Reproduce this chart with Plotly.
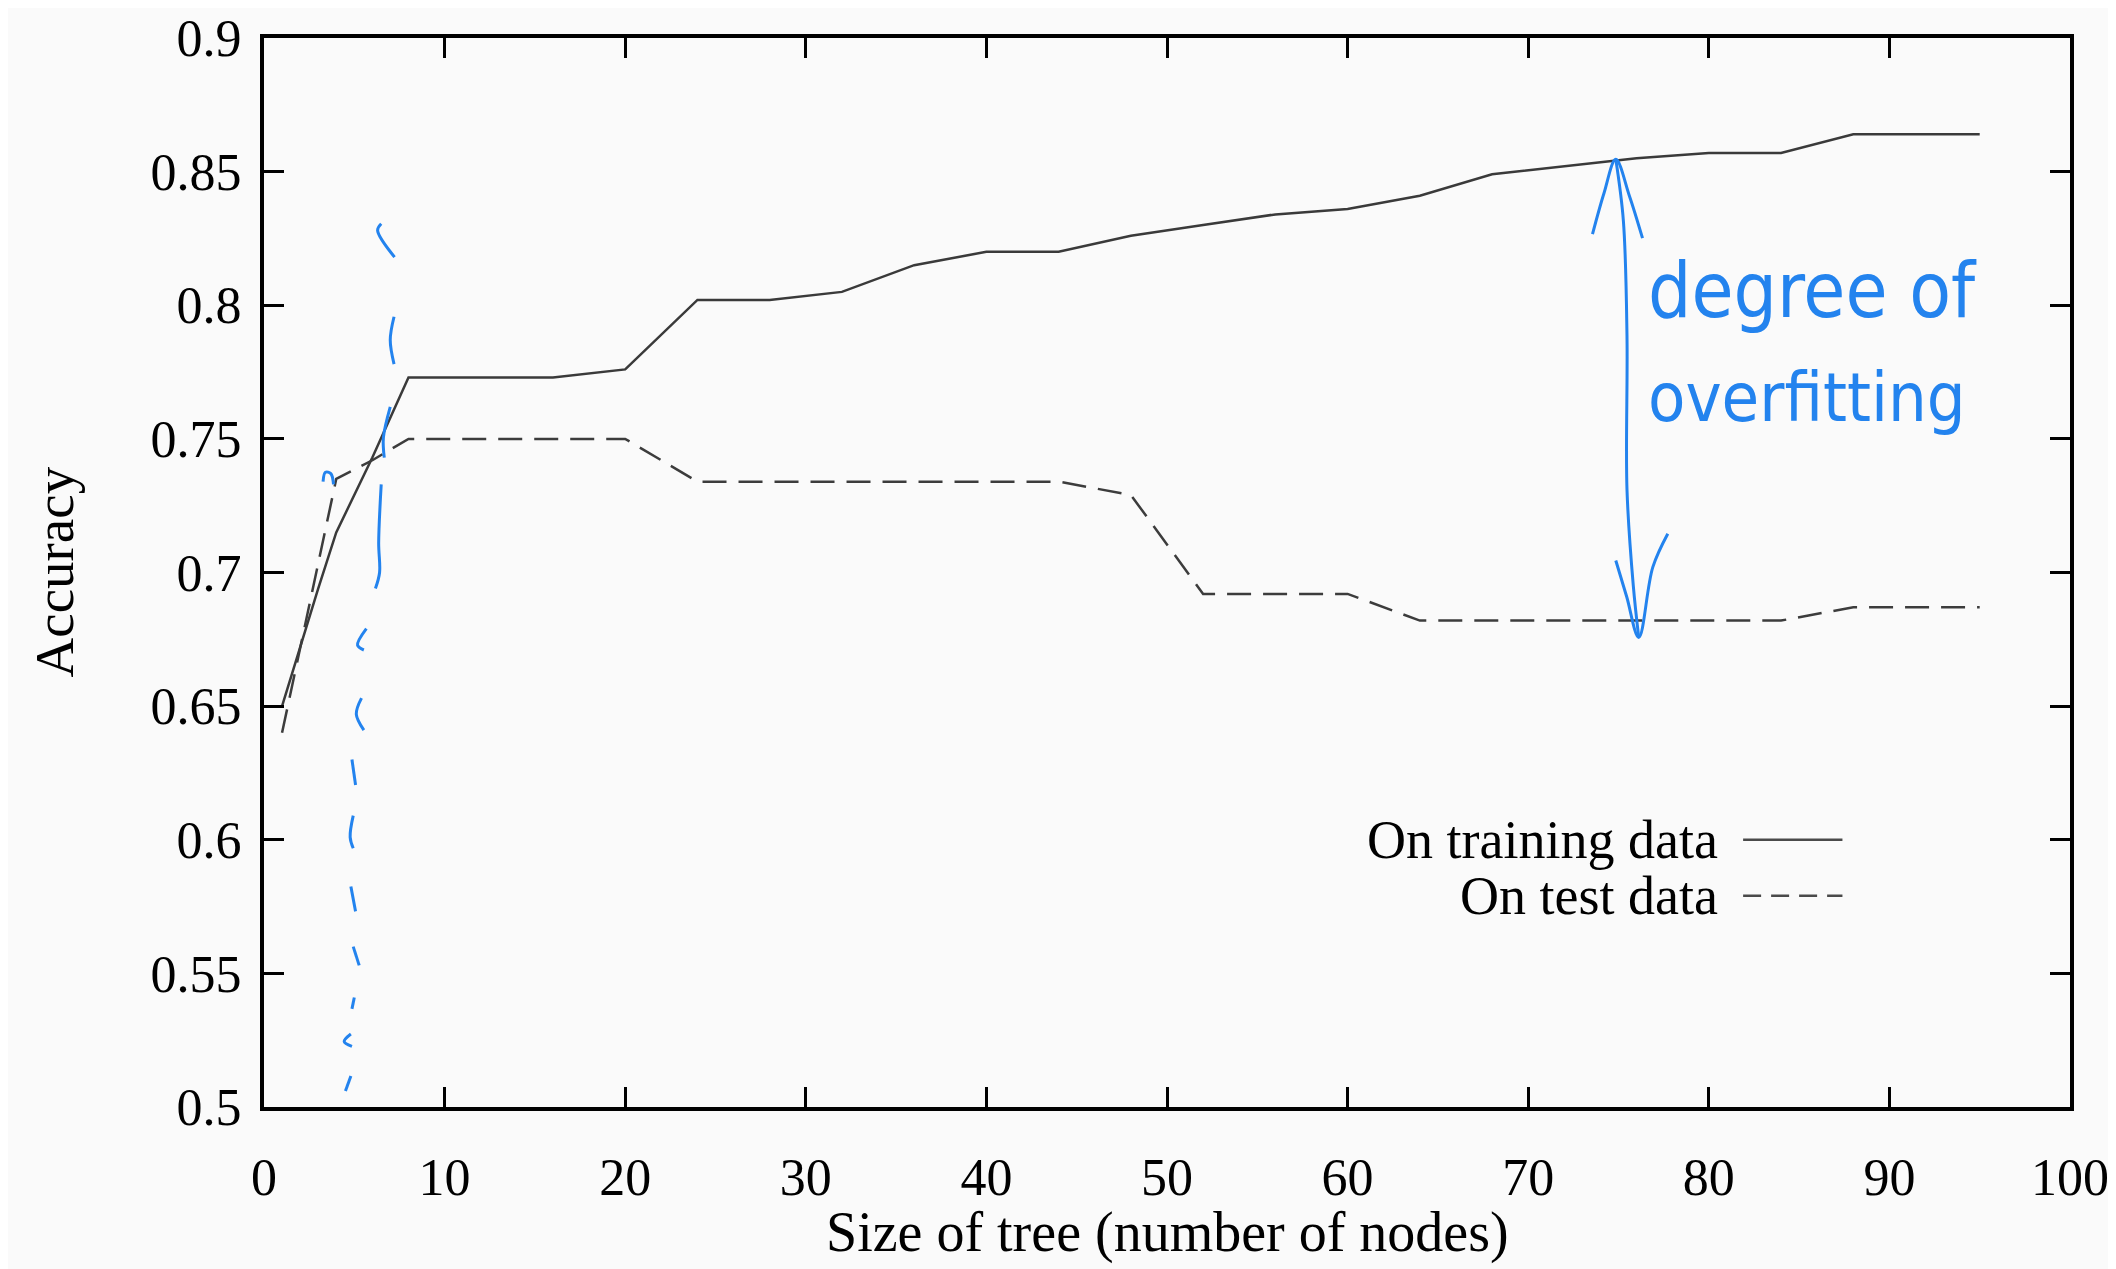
import plotly.graph_objects as go

# ---------------- data ----------------
train_x = [1, 2, 3, 4, 5, 6, 7, 8, 12, 16, 20, 24, 28, 32, 36, 40, 44, 48, 52, 56, 60, 64, 68, 72, 76, 80, 84, 88, 95]
train_y = [0.650, 0.672, 0.694, 0.715, 0.729, 0.743, 0.758, 0.773, 0.773, 0.773, 0.776, 0.802, 0.802, 0.805,
           0.815, 0.820, 0.820, 0.826, 0.830, 0.834, 0.836, 0.841, 0.849, 0.852, 0.855, 0.857, 0.857, 0.864, 0.864]

test_x = [1, 4, 6, 8, 12, 16, 20, 24, 28, 32, 36, 40, 44, 48, 52, 56, 60, 64, 68, 72, 76, 80, 84, 88, 95]
test_y = [0.640, 0.735, 0.742, 0.750, 0.750, 0.750, 0.750, 0.734, 0.734, 0.734, 0.734, 0.734, 0.734, 0.729,
          0.692, 0.692, 0.692, 0.682, 0.682, 0.682, 0.682, 0.682, 0.682, 0.687, 0.687]

series_names = ["On training data", "On test data"]
x_title = "Size of tree (number of nodes)"
y_title = "Accuracy"
x_ticks = [0, 10, 20, 30, 40, 50, 60, 70, 80, 90, 100]
y_ticks = [0.5, 0.55, 0.6, 0.65, 0.7, 0.75, 0.8, 0.85, 0.9]

# hand-drawn blue annotation strokes (data coordinates, None = pen lifted)
stroke_x = [6.49, 6.29, 7.23, None,
            7.2, 6.99, 7.2, None,
            6.99, 6.61, 6.66, None,
            6.49, 6.35, 6.4, 6.17, None,
            5.67, 5.18, 5.53, None,
            5.4, 5.11, 5.53, None,
            4.87, 5.07, None,
            4.94, 4.77, 4.94, None,
            4.81, 5.07, None,
            4.94, 5.27, None,
            5.0, 4.87, None,
            4.81, 4.44, 4.87, None,
            4.81, 4.51, None,
            3.27, 3.4, 3.7, 3.85]
stroke_y = [0.8305, 0.828, 0.818, None,
            0.7957, 0.787, 0.778, None,
            0.762, 0.7504, 0.743, None,
            0.733, 0.711, 0.700, 0.694, None,
            0.679, 0.6728, 0.671, None,
            0.653, 0.647, 0.641, None,
            0.630, 0.6205, None,
            0.609, 0.601, 0.5968, None,
            0.5825, 0.5732, None,
            0.560, 0.553, None,
            0.541, 0.5367, None,
            0.5273, 0.5245, 0.5227, None,
            0.5116, 0.506, None,
            0.734, 0.7375, 0.737, 0.733]

arrow_x = [74.85, 75.27, 75.47, 75.47, 75.82, 76.12, None,
           73.56, 74.2, 74.85, 75.6, 76.33, None,
           74.85, 75.45, 76.12, 76.9, 77.73]
arrow_y = [0.8546, 0.8316, 0.7885, 0.731, 0.695, 0.6757, None,
           0.8266, 0.842, 0.8546, 0.841, 0.8251, None,
           0.7045, 0.691, 0.6757, 0.702, 0.7145]

note_lines = ["degree of", "overfitting"]
note_y = [0.8056, 0.7656]
note_size = [76, 68]

BLUE = "#2383ee"
SERIF = "Liberation Serif, Times New Roman, serif"
HAND = "DejaVu Sans Condensed, DejaVu Sans, sans-serif"

W, H = 2116, 1269
ML, MR, MT, MB = 256, 54, 30, 170
PW, PH = W - ML - MR, H - MT - MB

fig = go.Figure()
fig.add_trace(go.Scatter(x=train_x, y=train_y, mode="lines", name=series_names[0],
                         line=dict(color="#3a3a3a", width=2.5), showlegend=False))
fig.add_trace(go.Scatter(x=test_x, y=test_y, mode="lines", name=series_names[1],
                         line=dict(color="#3c3c3c", width=2.5, dash="24px,12px"), showlegend=False))
fig.add_trace(go.Scatter(x=stroke_x, y=stroke_y, mode="lines", connectgaps=False,
                         line=dict(color=BLUE, width=3, shape="spline"), showlegend=False, hoverinfo="skip"))
fig.add_trace(go.Scatter(x=arrow_x, y=arrow_y, mode="lines", connectgaps=False,
                         line=dict(color=BLUE, width=3, shape="spline"), showlegend=False, hoverinfo="skip"))

# handwritten note
for txt, ny, ns in zip(note_lines, note_y, note_size):
    fig.add_annotation(x=76.5, y=ny, xref="x", yref="y", text=txt, showarrow=False,
                       xanchor="left", yanchor="middle", font=dict(family=HAND, size=ns, color=BLUE))

# gnuplot-style key: text on the left, line sample on the right
key_y = [0.600, 0.5790]
key_dash = ["solid", "18px,10px"]
for name, ky, dsh in zip(series_names, key_y, key_dash):
    fig.add_annotation(x=80.6, y=ky, xref="x", yref="y", text=name, showarrow=False,
                       xanchor="right", yanchor="middle", font=dict(family=SERIF, size=54, color="black"))
    fig.add_shape(type="line", x0=81.9, x1=87.4, y0=ky, y1=ky, xref="x", yref="y",
                  line=dict(color="#4a4a4a", width=2.5, dash=dsh))

# axis titles as free text (placed in the margins)
fig.add_annotation(x=0.5, y=-(1224 - (H - MB)) / PH, xref="paper", yref="paper", text=x_title,
                   showarrow=False, xanchor="center", yanchor="middle",
                   font=dict(family=SERIF, size=56, color="black"))
fig.add_annotation(x=-(ML - 46) / PW, y=0.5, xref="paper", yref="paper", text=y_title, textangle=-90,
                   showarrow=False, xanchor="center", yanchor="middle",
                   font=dict(family=SERIF, size=55, color="black"))

axis_common = dict(showline=True, linecolor="black", linewidth=4, mirror="ticks",
                   ticks="inside", ticklen=20, tickwidth=3, tickcolor="black",
                   showgrid=False, zeroline=False, automargin=False,
                   tickfont=dict(family=SERIF, size=52, color="black"))

fig.update_xaxes(range=[0, 100], tickvals=x_ticks, ticktext=[str(v) for v in x_ticks],
                 ticklabelstandoff=22, **axis_common)
fig.update_yaxes(range=[0.5, 0.9], tickvals=y_ticks, ticktext=[f"{v:g}" for v in y_ticks],
                 ticklabelstandoff=8, **axis_common)

fig.update_layout(width=W, height=H, margin=dict(l=ML, r=MR, t=MT, b=MB),
                  paper_bgcolor="#fafafa", plot_bgcolor="#fafafa", showlegend=False)

fig.write_html("out.html")
